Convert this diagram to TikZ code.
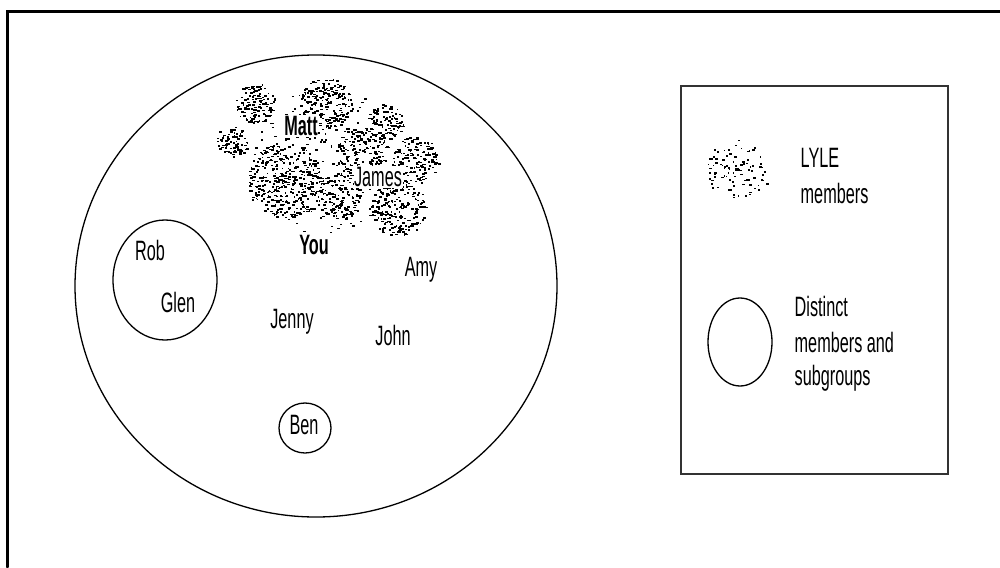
\documentclass[tikz,border=0pt]{standalone}
\usepackage{fontspec}
\setmainfont{Liberation Sans}
\begin{document}
\begin{tikzpicture}[x=1pt, y=-1pt, line cap=round,
    member/.style={font=\fontsize{28}{30}\selectfont, xscale=0.58, inner sep=1pt},
    leader/.style={member, font=\fontsize{28}{30}\selectfont\bfseries},
    legendtext/.style={member, anchor=west},
    group/.style={line width=1.3pt}]
    \useasboundingbox (0,0) rectangle (1000,567);
    % 外框 (只露出上边和左边)
    \draw[line width=3pt] (7,567) -- (7,12) -- (1000,12);

    % 大圆与小组
    \draw[group] (316,286) ellipse [x radius=241, y radius=231];
    \draw[group] (165,280) ellipse [x radius=52, y radius=60];
    \draw[group] (305,428) ellipse [x radius=26, y radius=25];

    % 点状云团 LYLE
    \pgfmathsetseed{7}
    \foreach \cx/\cy/\r/\n in {255/103/20/120, 232/141/16/90, 326/103/26/190,
        385/122/18/100, 362/152/26/160, 415/160/24/150, 285/180/38/360,
        340/195/24/140, 398/208/28/220, 325/160/75/200} {
      \foreach \k in {1,...,\n} {
        \pgfmathsetmacro{\ang}{360*rnd}
        \pgfmathsetmacro{\dist}{\r*sqrt(rnd)}
        \pgfmathsetmacro{\len}{1.3+2*rnd}
        \fill ({\cx+\dist*cos(\ang)},{\cy+\dist*sin(\ang)}) rectangle ++(\len,1.6);
      }
    }

    % 名字
    \node[leader, fill=white] (matt) at (301,126) {Matt};
    \node[member, fill=white] (james) at (378,177) {James};
    \node[leader] (you) at (314,245) {You};
    \node[member] (amy) at (421,270) {Amy};
    \node[member] (rob) at (150,250) {Rob};
    \node[member] (glen) at (178,302) {Glen};
    \node[member] (jenny) at (292,322) {Jenny};
    \node[member] (john) at (393,335) {John};
    \node[member] (ben) at (304,425) {Ben};

    % 图例
    \draw[line width=1.5pt, black!80] (681,86) rectangle (948,474);
    \foreach \k in {1,...,95} {
      \pgfmathsetmacro{\ang}{360*rnd}
      \pgfmathsetmacro{\dist}{rnd^0.7}
      \pgfmathsetmacro{\len}{1.3+1.5*rnd}
      \fill ({737+34*\dist*cos(\ang)},{168+29*\dist*sin(\ang)}) rectangle ++(\len,1.6);
    }
    \draw[group] (740,342) ellipse [x radius=32, y radius=44];
    \node[legendtext] (lyle) at (800,158) {LYLE};
    \node[legendtext] (lylemem) at (800,193) {members};
    \node[legendtext] (distinct) at (794,306) {Distinct};
    \node[legendtext] (distmem) at (794,342) {members and};
    \node[legendtext] (subgroups) at (794,378) {subgroups};
\end{tikzpicture}
\end{document}
